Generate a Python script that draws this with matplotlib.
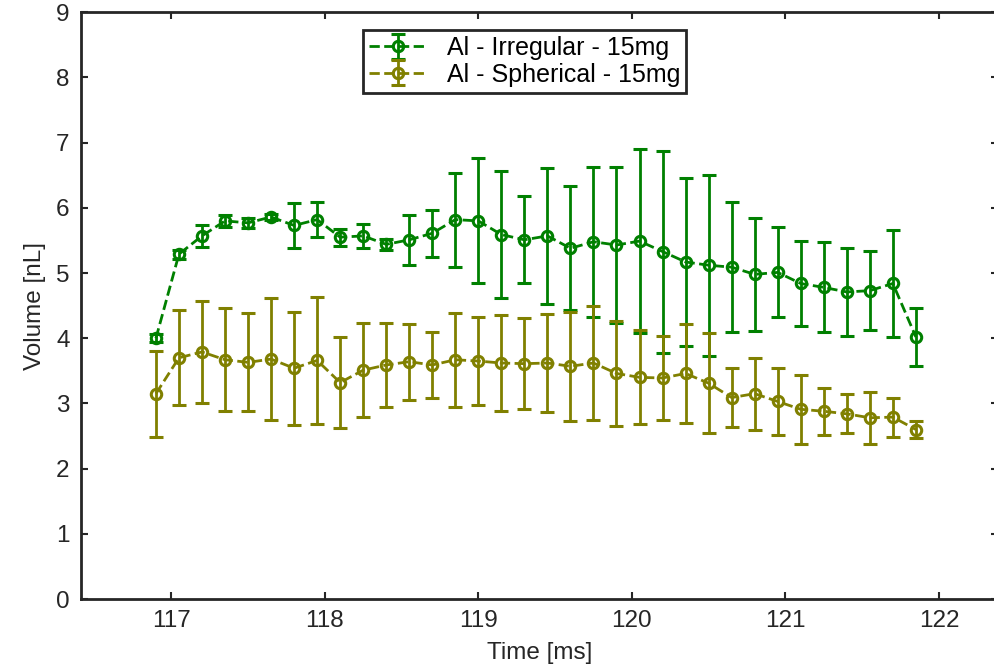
import numpy as np
import matplotlib
matplotlib.use("Agg")
import matplotlib.pyplot as plt

plt.rcParams['font.family'] = ['Liberation Sans', 'DejaVu Sans']

# Sample times [ms]
time_ms = [116.90, 117.05, 117.20, 117.35, 117.50, 117.65, 117.80, 117.95, 118.10,
           118.25, 118.40, 118.55, 118.70, 118.85, 119.00, 119.15, 119.30, 119.45,
           119.60, 119.75, 119.90, 120.05, 120.20, 120.35, 120.50, 120.65, 120.80,
           120.95, 121.10, 121.25, 121.40, 121.55, 121.70, 121.85]

# Al - Irregular - 15mg: mean volume and error [nL]
irregular_mean = [4.00, 5.29, 5.57, 5.80, 5.77, 5.86, 5.73, 5.82, 5.55, 5.57,
                  5.44, 5.51, 5.61, 5.82, 5.80, 5.59, 5.51, 5.57, 5.38, 5.48,
                  5.43, 5.49, 5.33, 5.17, 5.12, 5.09, 4.98, 5.01, 4.84, 4.78,
                  4.71, 4.73, 4.84, 4.02]
irregular_err = [0.06, 0.07, 0.17, 0.09, 0.08, 0.05, 0.34, 0.27, 0.13, 0.19,
                 0.08, 0.38, 0.36, 0.72, 0.96, 0.98, 0.67, 1.04, 0.95, 1.15,
                 1.20, 1.41, 1.55, 1.29, 1.39, 1.00, 0.87, 0.69, 0.65, 0.69,
                 0.67, 0.61, 0.82, 0.45]

# Al - Spherical - 15mg: mean volume and error [nL]
spherical_mean = [3.15, 3.70, 3.79, 3.67, 3.63, 3.68, 3.54, 3.66, 3.32, 3.51,
                  3.59, 3.64, 3.59, 3.67, 3.65, 3.62, 3.61, 3.62, 3.57, 3.62,
                  3.46, 3.40, 3.39, 3.46, 3.31, 3.09, 3.15, 3.03, 2.91, 2.88,
                  2.84, 2.78, 2.79, 2.60]
spherical_err = [0.66, 0.73, 0.78, 0.79, 0.75, 0.93, 0.87, 0.97, 0.70, 0.72,
                 0.65, 0.58, 0.50, 0.72, 0.68, 0.74, 0.70, 0.75, 0.84, 0.87,
                 0.80, 0.72, 0.64, 0.76, 0.77, 0.45, 0.55, 0.51, 0.53, 0.36,
                 0.30, 0.40, 0.30, 0.13]

series = [
    ("Al - Irregular - 15mg", irregular_mean, irregular_err, "#008000"),
    ("Al - Spherical - 15mg", spherical_mean, spherical_err, "#808000"),
]

W, H = 994, 672
fig = plt.figure(figsize=(W / 100, H / 100), dpi=100)
# the right spine sits just past the image edge
ax_left, ax_right, ax_top, ax_bottom = 80.7, 998.0, 12.3, 599.0
ax = fig.add_axes([ax_left / W, 1 - ax_bottom / H,
                   (ax_right - ax_left) / W, (ax_bottom - ax_top) / H])

for label, mean, err, color in series:
    ax.errorbar(time_ms, mean, yerr=err, fmt='--o', color=color,
                markerfacecolor='none', markeredgewidth=2.2, markersize=7.5,
                linewidth=2.0, elinewidth=2.0, capsize=5, capthick=2.0,
                label=label)

ax.set_xlim(116.41, 122.385)
ax.set_ylim(0, 9)
ax.set_xticks([117, 118, 119, 120, 121, 122])
ax.set_yticks(range(0, 10))

ax.tick_params(direction='in', length=5, width=1.5, top=True, right=True,
               labelsize=17.5, colors='#262626', pad=8)
for sp in ax.spines.values():
    sp.set_linewidth(2.0)
    sp.set_color('#262626')

ax.set_xlabel('Time [ms]', fontsize=17.5, color='#262626', labelpad=7)
ax.set_ylabel('Volume [nL]', fontsize=17.5, color='#262626', labelpad=7)

leg = ax.legend(loc='upper left',
                bbox_to_anchor=((363 - ax_left) / (ax_right - ax_left),
                                1 - (30 - ax_top) / (ax_bottom - ax_top)),
                borderaxespad=0, fontsize=18, fancybox=False, framealpha=1,
                edgecolor='#262626', labelspacing=0.1, handlelength=2.3,
                borderpad=0.25, handletextpad=0.8)
leg.get_frame().set_linewidth(2.0)

fig.savefig('out.png', dpi=100)
